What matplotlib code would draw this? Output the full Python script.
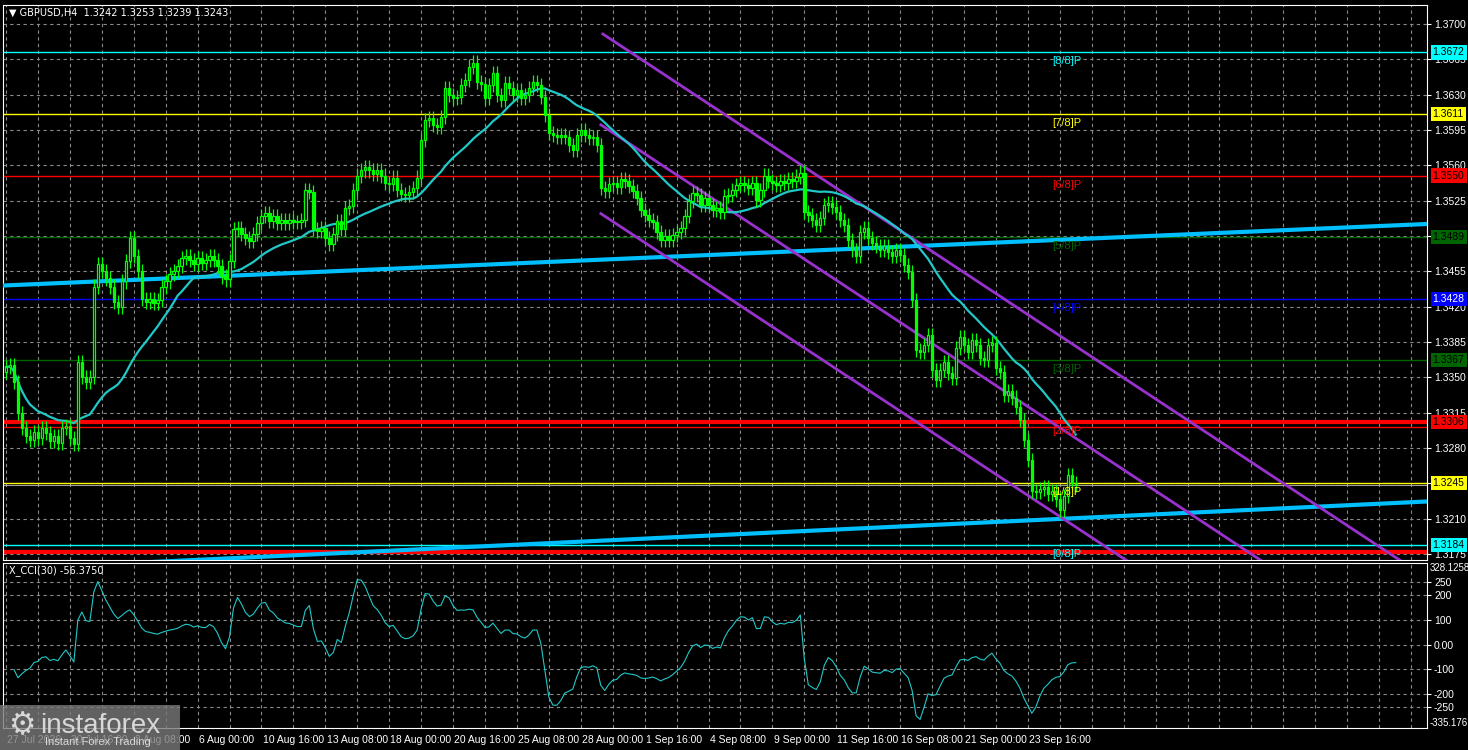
import numpy as np
import pandas as pd
import matplotlib
matplotlib.use("Agg")
import matplotlib.pyplot as plt
from matplotlib.patches import Rectangle
import matplotlib.transforms as mtransforms

plt.rcParams['font.family'] = ['Liberation Sans', 'DejaVu Sans']

closes = [
1.3360,1.3362,1.3345,1.3315,1.3300,1.3292,1.3288,1.3296,1.3290,1.3300,
1.3295,1.3287,1.3292,1.3285,1.3300,1.3302,1.3290,1.3284,1.3365,1.3350,
1.3345,1.3350,1.3440,1.3462,1.3455,1.3448,1.3440,1.3425,1.3420,1.3445,
1.3465,1.3488,1.3470,1.3455,1.3428,1.3425,1.3428,1.3424,1.3427,1.3440,
1.3445,1.3452,1.3455,1.3460,1.3468,1.3470,1.3466,1.3462,1.3468,1.3463,
1.3466,1.3470,1.3466,1.3460,1.3450,1.3447,1.3465,1.3497,1.3498,1.3492,
1.3488,1.3485,1.3492,1.3503,1.3510,1.3513,1.3505,1.3510,1.3503,1.3506,
1.3503,1.3506,1.3504,1.3504,1.3506,1.3536,1.3534,1.3497,1.3495,1.3498,
1.3488,1.3482,1.3492,1.3505,1.3497,1.3518,1.3520,1.3536,1.3550,1.3555,
1.3558,1.3555,1.3552,1.3555,1.3550,1.3543,1.3542,1.3548,1.3536,1.3532,
1.3531,1.3534,1.3538,1.3548,1.3585,1.3605,1.3607,1.3600,1.3598,1.3608,
1.3637,1.3630,1.3627,1.3628,1.3640,1.3645,1.3658,1.3662,1.3643,1.3641,
1.3627,1.3640,1.3652,1.3630,1.3625,1.3642,1.3637,1.3630,1.3635,1.3627,
1.3630,1.3637,1.3643,1.3640,1.3628,1.3610,1.3592,1.3590,1.3588,1.3590,
1.3588,1.3580,1.3575,1.3590,1.3595,1.3590,1.3587,1.3588,1.3580,1.3538,
1.3535,1.3542,1.3543,1.3539,1.3547,1.3545,1.3540,1.3535,1.3528,1.3516,
1.3511,1.3506,1.3504,1.3494,1.3486,1.3490,1.3486,1.3491,1.3494,1.3498,
1.3510,1.3525,1.3533,1.3531,1.3521,1.3528,1.3521,1.3516,1.3518,1.3514,
1.3530,1.3531,1.3536,1.3541,1.3543,1.3541,1.3538,1.3543,1.3526,1.3536,
1.3550,1.3545,1.3543,1.3541,1.3545,1.3543,1.3547,1.3545,1.3549,1.3553,
1.3514,1.3511,1.3506,1.3501,1.3508,1.3521,1.3523,1.3519,1.3514,1.3506,
1.3501,1.3486,1.3476,1.3470,1.3494,1.3498,1.3488,1.3483,1.3480,1.3476,
1.3480,1.3474,1.3470,1.3476,1.3471,1.3461,1.3454,1.3427,1.3377,1.3375,
1.3382,1.3392,1.3357,1.3347,1.3357,1.3365,1.3354,1.3349,1.3379,1.3390,
1.3382,1.3375,1.3387,1.3382,1.3369,1.3367,1.3382,1.3384,1.3359,1.3355,
1.3333,1.3336,1.3330,1.3321,1.3308,1.3288,1.3268,1.3237,1.3236,1.3239,
1.3241,1.3234,1.3237,1.3229,1.3219,1.3232,1.3253,1.3245,1.3243]
first_open = 1.3355
wick = 0.0007

levels = [1.3672, 1.3611, 1.3550, 1.3489, 1.3428, 1.3367, 1.3306, 1.3245, 1.3184]
level_names = ["[8/8]P", "[7/8]P", "[6/8]P", "[5/8]P", "[4/8]P", "[3/8]P", "[2/8]P", "[1/8]P", "[0/8]P"]
level_colors = ["#00ffff", "#ffff00", "#ff0000", "#006400", "#0000ff", "#006400", "#ff0000", "#ffff00", "#00ffff"]
bottom_red = 1.3177
price_ticks = [1.3700, 1.3665, 1.3630, 1.3595, 1.3560, 1.3525, 1.3490, 1.3455, 1.3420,
               1.3385, 1.3350, 1.3315, 1.3280, 1.3245, 1.3210, 1.3175]
cci_ticks = [250, 200, 100, 0, -100, -200, -250]
cci_tick_labels = ["250", "200", "100", "0.00", "-100", "-200", "-250"]
date_labels = ["27 Jul 2026", "30 Jul 16:00", "3 Aug 08:00", "6 Aug 00:00", "10 Aug 16:00",
               "13 Aug 08:00", "18 Aug 00:00", "20 Aug 16:00", "25 Aug 08:00", "28 Aug 00:00",
               "1 Sep 16:00", "4 Sep 08:00", "9 Sep 00:00", "11 Sep 16:00", "16 Sep 08:00",
               "21 Sep 00:00", "23 Sep 16:00"]
cyan_upper = (-0.75, 1.3441, 356.0, 1.3502)
cyan_lower = (-0.75, 1.3160, 356.0, 1.3227)
ch_upper = (149.25, 1.3691, 356.0, 1.3151)
ch_mid = (148.75, 1.3601, 356.0, 1.3060)
ch_lower = (148.75, 1.3513, 356.0, 1.2972)

c = np.array(closes)
o = np.concatenate([[first_open], c[:-1]])
h = np.maximum(o, c) + wick
l = np.minimum(o, c) - wick
n = len(c)
xs = np.arange(n)
s = pd.Series(c)
ma = s.rolling(26, min_periods=1).mean()
tp = pd.Series((h + l + c) / 3)
sma = tp.rolling(30, min_periods=3).mean()
md = tp.rolling(30, min_periods=3).apply(lambda v: np.mean(np.abs(v - v.mean())), raw=True)
cci = (tp - sma) / (0.015 * md)

W, H = 1468, 750
fig = plt.figure(figsize=(W / 100, H / 100), dpi=100, facecolor="black")
ax = fig.add_axes([3 / W, (H - 560) / H, 1424 / W, 555 / H], facecolor="black")
ax2 = fig.add_axes([3 / W, (H - 728) / H, 1424 / W, 165 / H], facecolor="black")
XL = (-0.75, 356.0)
for a in (ax, ax2):
    a.set_xlim(*XL)
    for sp in a.spines.values():
        sp.set_color("white")
    a.set_xticks(np.arange(0, 357, 8))
    a.tick_params(axis="x", length=0, labelbottom=False)
    a.grid(True, color="#8a8a8a", ls=(0, (3, 3)), lw=0.8)
    a.yaxis.tick_right()
    a.tick_params(axis="y", colors="white", labelsize=7.5, length=3, pad=2)
ax.set_ylim(1.3169, 1.3719)
ax.set_yticks(price_ticks)
ax.set_yticklabels([f"{p:.4f}" for p in price_ticks])
ax2.set_ylim(-335.176, 328.1258)
ax2.set_yticks(cci_ticks)
ax2.set_yticklabels(cci_tick_labels)
ax2.text(1.002, 1.0, "328.1258", transform=ax2.transAxes, color="white", fontsize=7, va="top")
ax2.text(1.002, 0.0, "-335.176", transform=ax2.transAxes, color="white", fontsize=7, va="bottom")

trans = mtransforms.blended_transform_factory(ax.transAxes, ax.transData)
for lv, nm, col in zip(levels, level_names, level_colors):
    lw = 3 if lv == 1.3306 else 1
    ax.axhline(lv, color=col, lw=lw, zorder=2)
    ax.text(0.737, lv - 0.0004, nm, color=col, fontsize=8, va="top", transform=trans, zorder=6)
    tc = "white" if col == "#0000ff" else "black"
    ax.text(1.004, lv, f"{lv:.4f}", color=tc, fontsize=7.5, va="center", transform=trans, zorder=7,
            bbox=dict(boxstyle="square,pad=0.2", fc=col, ec="none"), clip_on=False)
ax.axhline(1.3301, color="#ff0000", lw=1, zorder=2)
ax.axhline(bottom_red, color="#ff0000", lw=3, zorder=2)
ax.axhline(c[-1], color="#a0a0a0", lw=0.8, zorder=2)

for (x0, y0, x1, y1), col, lw in [(cyan_upper, "#00bfff", 3), (cyan_lower, "#00bfff", 3),
                                  (ch_upper, "#9932cc", 2), (ch_mid, "#9932cc", 2),
                                  (ch_lower, "#9932cc", 2)]:
    ax.plot([x0, x1], [y0, y1], color=col, lw=lw, zorder=3, solid_capstyle="butt")

ax.plot(xs, ma, color="#20c8c8", lw=1.6, zorder=4)
ax.vlines(xs, l, h, color="#00ff00", lw=0.9, zorder=5)
for i in range(n):
    bull = c[i] >= o[i]
    lo, hi = min(o[i], c[i]), max(o[i], c[i])
    ax.add_patch(Rectangle((i - 0.3, lo), 0.6, max(hi - lo, 0.00005),
                           fc="black" if bull else "#00ff00", ec="#00ff00", lw=0.9, zorder=5))

ax.text(0.004, 0.995, "\u25bc GBPUSD,H4  1.3242 1.3253 1.3239 1.3243", transform=ax.transAxes,
        color="white", fontsize=7, va="top", family=["DejaVu Sans"])

ax2.plot(xs, cci, color="#20c8c8", lw=0.8)
ax2.text(0.004, 0.985, "X_CCI(30) -56.3750", transform=ax2.transAxes, color="white", fontsize=7, va="top",
         family=["DejaVu Sans"])

dtrans = mtransforms.blended_transform_factory(ax2.transData, ax2.transAxes)
for k, lab in enumerate(date_labels):
    ax2.text(k * 16 + 0.3, -0.04, lab, transform=dtrans, color="white", fontsize=7.5, va="top", ha="left")

fig.patches.append(Rectangle((0, 0), 180 / W, 45 / H, transform=fig.transFigure,
                             fc="#7a7a7a", alpha=0.8, ec="none", zorder=10))
fig.text(40 / W, 24 / H, "instaforex", color="#d8d8d8", fontsize=20, zorder=11, va="center")
fig.text(45 / W, 5 / H, "Instant Forex Trading", color="#d8d8d8", fontsize=8, zorder=11)
fig.text(8 / W, 24 / H, "\u2699", color="#d8d8d8", fontsize=22, zorder=11, va="center", family=["DejaVu Sans"])

fig.savefig("out.png", dpi=100, facecolor="black")
